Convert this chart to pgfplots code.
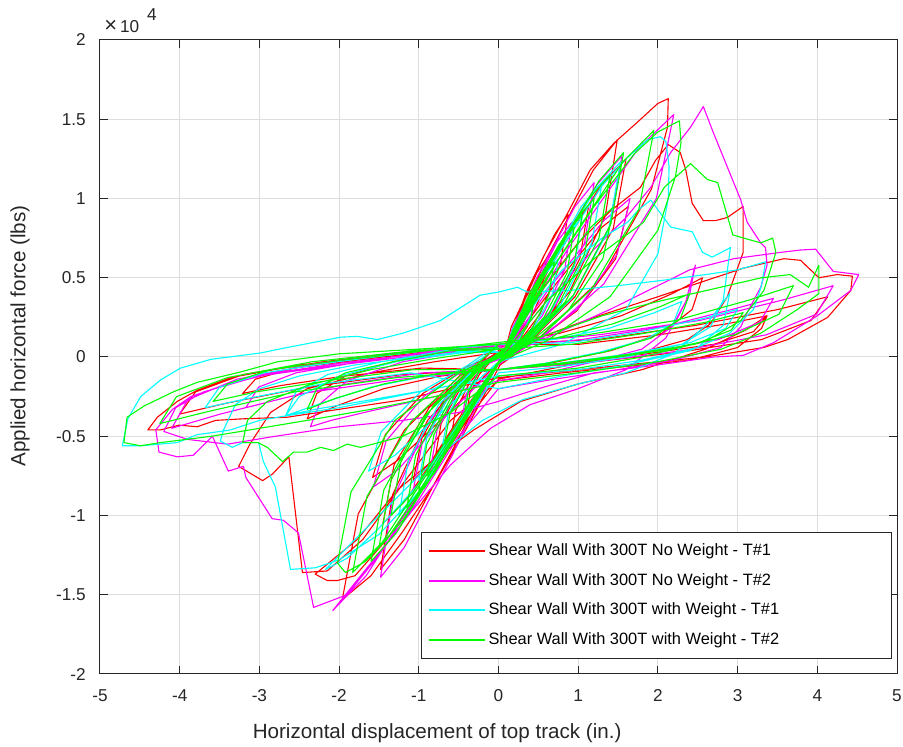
\documentclass[border=0pt]{standalone}
\usepackage{fontspec}
\setmainfont{Liberation Sans}
\usepackage{pgfplots}
\pgfplotsset{compat=1.18}
\definecolor{cRed}{rgb}{1,0,0}
\definecolor{cMag}{rgb}{1,0,1}
\definecolor{cCya}{rgb}{0,1,1}
\definecolor{cGre}{rgb}{0,1,0}
\begin{document}
\begin{tikzpicture}
\begin{axis}[
  scale only axis, width=398.5pt, height=317pt,
  xmin=-5, xmax=5, ymin=-2, ymax=2, clip=false,
  xtick={-5,-4,-3,-2,-1,0,1,2,3,4,5},
  xticklabels={-5,-4,-3,-2,-1,0,1,2,3,4,5},
  ytick={-2,-1.5,-1,-0.5,0,0.5,1,1.5,2},
  yticklabels={-2,-1.5,-1,-0.5,0,0.5,1,1.5,2},
  tick align=inside, tick pos=both,
  major tick length=4pt,
  grid=major,
  major grid style={draw=black!13, line width=0.5pt},
  axis line style={draw=black!85, line width=0.5pt},
  every tick/.style={draw=black!85, line width=0.5pt},
  ticklabel style={font=\fontsize{8.6}{10}\selectfont, text=black!85},
  yticklabel style={xshift=-3.6pt},
  xticklabel style={yshift=-4.1pt},
  xlabel={Horizontal displacement of top track (in.)},
  ylabel={Applied horizontal force (lbs)},
  label style={font=\fontsize{10.3}{12}\selectfont, text=black!85},
  xlabel style={at={(axis description cs:0.423,-0.0931)}, anchor=center},
  ylabel style={at={(axis description cs:-0.1004,0.533)}, anchor=center},
  legend cell align=left,
  legend style={at={(axis description cs:1,0)}, anchor=south east, xshift=-2.5pt, yshift=7.5pt,
    draw=black!85, line width=0.5pt, fill=white, font=\fontsize{8.2}{10}\selectfont,
    inner xsep=3pt, inner ysep=3.6pt, row sep=3.3pt, nodes={inner xsep=1.5pt, inner ysep=2pt}},
  legend image code/.code={\draw[#1] (0pt,0pt) -- (28pt,0pt);},
]
\addlegendimage{draw=cRed, line width=0.95pt}
\addlegendentry{\makebox[197pt][l]{Shear Wall With 300T No Weight - T\#1}}
\addlegendimage{draw=cMag, line width=0.95pt}
\addlegendentry{\makebox[197pt][l]{Shear Wall With 300T No Weight - T\#2}}
\addlegendimage{draw=cCya, line width=0.95pt}
\addlegendentry{\makebox[197pt][l]{Shear Wall With 300T with Weight - T\#1}}
\addlegendimage{draw=cGre, line width=0.95pt}
\addlegendentry{\makebox[197pt][l]{Shear Wall With 300T with Weight - T\#2}}
% ---------------- Red: No Weight T#1
\addplot[forget plot, draw=cRed, line width=0.55pt, mark=none, line join=round] coordinates {
(0.08,0.03)(0.16,0.19)(0.32,0.36)(0.4,0.42)(0.36,0.27)(0.24,0.13)(0.1,0.03)(0,-0.03)(-0.16,-0.16)(-0.32,-0.31)(-0.4,-0.36)(-0.36,-0.23)(-0.24,-0.11)(-0.1,-0.03)
(0.12,0.06)(0.26,0.28)(0.48,0.53)(0.6,0.62)(0.54,0.40)(0.36,0.19)(0.15,0.05)(0.03,-0.01)(-0.22,-0.23)(-0.48,-0.45)(-0.6,-0.52)(-0.54,-0.34)(-0.36,-0.16)(-0.15,-0.04)
(0.08,0.03)(0.35,0.41)(0.70,0.77)(0.87,0.9)(0.78,0.59)(0.52,0.27)(0.22,0.07)(0,-0.03)(-0.32,-0.29)(-0.64,-0.56)(-0.8,-0.65)(-0.72,-0.42)(-0.48,-0.2)(-0.2,-0.05)
(0.04,0.0)(0.43,0.43)(0.90,0.82)(1.13,0.95)(1.02,0.62)(0.68,0.29)(0.28,0.08)(-0.04,-0.06)(-0.45,-0.35)(-0.86,-0.67)(-1.07,-0.78)(-0.96,-0.51)(-0.64,-0.23)(-0.27,-0.06)
(0.08,0.03)(0.60,0.62)(1.19,1.18)(1.49,1.37)(1.34,0.89)(0.89,0.41)(0.37,0.11)(0,-0.03)(-0.58,-0.47)(-1.16,-0.90)(-1.45,-1.05)(-1.31,-0.68)(-0.87,-0.32)(-0.36,-0.08)
(0.15,0.08)(0.67,0.43)(1.30,0.82)(1.63,0.95)(1.47,0.62)(0.98,0.29)(0.41,0.08)(0.06,0.0)(-0.6,-0.34)(-1.26,-0.65)(-1.58,-0.76)(-1.42,-0.49)(-0.95,-0.23)(-0.40,-0.06)
(0.08,0.03)(0.64,0.56)(1.28,1.08)(1.6,1.25)(1.44,0.81)(0.96,0.38)(0.4,0.1)(0,-0.03)(-0.59,-0.60)(-1.18,-1.15)(-1.48,-1.34)(-1.33,-0.87)(-0.89,-0.40)(-0.37,-0.11)
(0,0.08)(0.77,0.15)(1.54,0.26)(2.18,0.40)(2.56,0.50)(2.43,0.30)(2.05,0.15)(1.41,0.04)(0.64,-0.04)(0,-0.08)(-0.72,-0.12)(-1.44,-0.20)(-2.04,-0.31)(-2.4,-0.39)(-2.28,-0.23)(-1.92,-0.12)(-1.32,-0.03)(-0.6,0.04)
(0.1,0.05)(0.36,0.40)(0.56,0.63)(0.87,0.91)(1.15,1.18)(1.45,1.35)(1.74,1.48)(2.0,1.6)(2.13,1.63)(2.12,1.45)(1.92,1.06)(1.28,0.49)(0.53,0.13)(0.02,-0.05)(-0.4,-0.45)(-0.8,-0.8)(-1.2,-1.1)(-1.6,-1.38)(-1.96,-1.53)(-1.76,-0.99)(-1.18,-0.46)(-0.49,-0.12)
(0.05,0.02)(0.5,0.4)(1.0,0.72)(1.4,0.92)(1.78,1.07)(1.97,1.24)(2.13,1.34)(2.28,1.29)(2.35,1.18)(2.43,0.97)(2.57,0.86)(2.72,0.86)(2.87,0.88)(3.07,0.95)(3.07,0.66)(2.87,0.38)(2.66,0.21)(2.37,0.11)(1.8,0.03)(1.0,-0.04)(0.4,-0.1)(0,-0.14)
(-0.4,-0.4)(-0.9,-0.8)(-1.4,-1.15)(-1.8,-1.38)(-2.02,-1.41)(-2.15,-1.41)(-2.30,-1.37)(-1.77,-1.15)(-1.27,-0.84)(-0.77,-0.63)(-0.31,-0.46)(0.28,-0.28)(1.0,-0.17)(1.8,-0.08)(2.6,0.05)(3.1,0.17)(3.37,0.26)(3.3,0.18)(3.0,0.06)(2.4,-0.02)(1.6,-0.06)(0.8,-0.1)(0,-0.15)
(-0.6,-0.4)(-1.2,-0.8)(-1.7,-1.15)(-2.15,-1.35)(-2.46,-1.36)(-2.63,-0.63)(-2.84,-0.74)(-2.96,-0.78)(-3.26,-0.69)(-3.12,-0.55)(-2.86,-0.35)(-2.4,-0.2)(-1.6,-0.1)(-0.8,-0.03)(0,0.03)
(0,0.08)(1.01,0.08)(2.02,0.14)(2.87,0.21)(3.37,0.26)(3.2,0.16)(2.7,0.08)(1.85,0.02)(0.84,-0.04)(0,-0.08)(-0.96,-0.07)(-1.93,-0.12)(-2.73,-0.18)(-3.21,-0.23)(-3.05,-0.14)(-2.57,-0.07)(-1.77,-0.02)(-0.8,0.04)
(0,0.06)(0.5,0.12)(1.2,0.25)(2.0,0.38)(2.53,0.47)(3.07,0.56)(3.58,0.62)(3.79,0.61)(4.02,0.50)(4.25,0.52)(4.44,0.51)(4.42,0.42)(4.13,0.25)(3.63,0.11)(3.33,0.06)(2.6,0.0)(1.6,-0.05)(0.6,-0.1)(0,-0.13)
(-0.6,-0.2)(-1.2,-0.27)(-2.0,-0.33)(-2.65,-0.38)(-3.2,-0.39)(-3.55,-0.40)(-3.78,-0.44)(-4.01,-0.43)(-4.24,-0.46)(-4.40,-0.46)(-4.28,-0.38)(-4.03,-0.28)(-3.78,-0.21)(-3.36,-0.13)(-2.5,-0.05)(-1.5,0.0)(-0.6,0.03)
(0,0.08)(1.24,0.11)(2.48,0.20)(3.51,0.30)(4.13,0.38)(3.92,0.23)(3.3,0.11)(2.27,0.03)(1.03,-0.04)(0,-0.08)(-1.2,-0.11)(-2.4,-0.19)(-3.4,-0.29)(-4.0,-0.36)(-3.8,-0.22)(-3.2,-0.11)(-2.2,-0.03)(-1.0,0.04)(0,0.06)
};
% ---------------- Magenta: No Weight T#2
\addplot[forget plot, draw=cMag, line width=0.55pt, mark=none, line join=round] coordinates {
(0.08,0.03)(0.18,0.19)(0.36,0.36)(0.45,0.42)(0.41,0.27)(0.27,0.13)(0.11,0.03)(0,-0.03)(-0.18,-0.17)(-0.36,-0.32)(-0.45,-0.37)(-0.41,-0.24)(-0.27,-0.11)(-0.11,-0.03)
(0.13,0.07)(0.39,0.38)(0.74,0.73)(0.92,0.85)(0.83,0.55)(0.55,0.26)(0.23,0.07)(0.04,-0.01)(-0.32,-0.32)(-0.68,-0.60)(-0.85,-0.7)(-0.77,-0.46)(-0.51,-0.21)(-0.21,-0.06)
(0.08,0.03)(0.48,0.50)(0.96,0.95)(1.2,1.1)(1.08,0.72)(0.72,0.33)(0.3,0.09)(0,-0.03)(-0.43,-0.38)(-0.86,-0.72)(-1.07,-0.84)(-0.96,-0.55)(-0.64,-0.25)(-0.27,-0.07)
(0.03,-0.01)(0.6,0.57)(1.24,1.09)(1.55,1.27)(1.40,0.83)(0.93,0.38)(0.39,0.10)(-0.05,-0.07)(-0.65,-0.37)(-1.26,-0.71)(-1.57,-0.82)(-1.41,-0.53)(-0.94,-0.25)(-0.39,-0.07)
(0.08,0.03)(0.66,0.45)(1.32,0.86)(1.65,1.0)(1.49,0.65)(0.99,0.30)(0.41,0.08)(0,-0.03)(-0.59,-0.63)(-1.18,-1.20)(-1.48,-1.39)(-1.33,-0.90)(-0.89,-0.42)(-0.37,-0.11)
(0.12,0.06)(0.88,0.69)(1.76,1.32)(2.2,1.53)(1.98,1.0)(1.32,0.46)(0.55,0.12)(0.02,-0.03)(-0.83,-0.72)(-1.66,-1.38)(-2.08,-1.60)(-1.6,-1.3)(-1.1,-0.98)(-0.6,-0.68)(-0.1,-0.45)(0.4,-0.3)(1.0,-0.2)(1.6,-0.08)(2.1,0.12)(2.35,0.35)(2.47,0.58)(2.4,0.4)(2.2,0.2)(1.8,0.05)(1.2,-0.03)(0.6,-0.1)(0,-0.15)
(-0.8,-0.25)(-1.6,-0.34)(-2.1,-0.4)(-2.36,-0.44)(-2.25,-0.3)(-1.9,-0.15)(-1.2,-0.03)(-0.5,0.03)
(0.08,0.03)(0.6,0.35)(1.2,0.68)(1.6,0.88)(1.91,1.07)(2.16,1.29)(2.41,1.45)(2.57,1.58)(2.70,1.41)(2.87,1.2)(3.04,0.99)(3.12,0.85)(3.29,0.72)(3.35,0.69)(3.37,0.58)(3.29,0.44)(3.12,0.28)(3.04,0.19)(2.79,0.06)(2.2,-0.02)(1.5,-0.08)(0.7,-0.14)(0,-0.2)
(-0.5,-0.5)(-1.0,-0.9)(-1.5,-1.25)(-1.9,-1.5)(-2.32,-1.58)(-2.51,-1.11)(-2.70,-1.03)(-2.84,-1.02)(-3.17,-0.76)(-3.20,-0.69)(-3.39,-0.72)(-3.59,-0.50)(-3.83,-0.62)(-4.03,-0.63)(-4.26,-0.60)(-4.30,-0.46)(-4.09,-0.33)(-3.86,-0.25)(-3.4,-0.17)(-2.8,-0.1)(-2.0,-0.04)(-1.0,0.02)(0,0.07)
(0.6,0.12)(1.4,0.3)(2.4,0.55)(2.95,0.62)(3.54,0.66)(3.79,0.675)(3.98,0.68)(4.2,0.54)(4.52,0.52)(4.42,0.42)(4.0,0.26)(3.45,0.09)(3.07,0.01)(2.70,0.0)(2.0,-0.05)(1.2,-0.1)(0.5,-0.2)(0,-0.28)
(-0.5,-0.35)(-1.2,-0.4)(-2.0,-0.44)(-2.8,-0.5)(-3.4,-0.55)(-3.9,-0.52)(-4.2,-0.47)(-4.05,-0.32)(-3.7,-0.22)(-3.0,-0.12)(-2.0,-0.05)(-1.0,0.01)(0,0.06)
(1.04,0.11)(2.07,0.19)(2.93,0.30)(3.45,0.37)(3.28,0.22)(2.76,0.11)(1.9,0.03)(0.86,-0.04)(0,-0.08)(-0.95,-0.10)(-1.9,-0.17)(-2.7,-0.26)(-3.17,-0.32)(-3.01,-0.19)(-2.54,-0.10)(-1.74,-0.03)(-0.79,0.04)
(0,0.08)(1.26,0.14)(2.52,0.23)(3.57,0.36)(4.2,0.45)(3.99,0.27)(3.36,0.14)(2.31,0.04)(1.05,-0.04)(0,-0.08)(-1.23,-0.14)(-2.46,-0.23)(-3.49,-0.36)(-4.1,-0.45)(-3.9,-0.27)(-3.28,-0.14)(-2.26,-0.04)(-1.03,0.04)(0,0.06)
};
% ---------------- Cyan: With Weight T#1
\addplot[forget plot, draw=cCya, line width=0.55pt, mark=none, line join=round] coordinates {
(0.08,0.03)(0.18,0.18)(0.36,0.34)(0.45,0.4)(0.41,0.26)(0.27,0.12)(0.11,0.03)(0,-0.03)(-0.17,-0.15)(-0.34,-0.28)(-0.42,-0.33)(-0.38,-0.22)(-0.25,-0.10)(-0.11,-0.03)
(0.04,0.0)(0.28,0.28)(0.6,0.53)(0.75,0.62)(0.68,0.40)(0.45,0.19)(0.19,0.05)(-0.05,-0.06)(-0.3,-0.25)(-0.56,-0.47)(-0.7,-0.55)(-0.63,-0.36)(-0.42,-0.17)(-0.18,-0.04)
(0.08,0.03)(0.42,0.40)(0.84,0.76)(1.05,0.88)(0.95,0.57)(0.63,0.26)(0.26,0.07)(0,-0.03)(-0.4,-0.35)(-0.8,-0.67)(-1.0,-0.78)(-0.9,-0.51)(-0.6,-0.23)(-0.25,-0.06)
(0.14,0.07)(0.54,0.50)(1.04,0.95)(1.3,1.1)(1.17,0.72)(0.78,0.33)(0.33,0.09)(0.05,0.0)(-0.48,-0.45)(-1.0,-0.86)(-1.25,-1.0)(-1.13,-0.65)(-0.75,-0.3)(-0.31,-0.08)
(0.08,0.03)(0.61,0.55)(1.22,1.06)(1.53,1.23)(1.38,0.80)(0.92,0.37)(0.38,0.10)(0,-0.03)(-0.65,-0.32)(-1.30,-0.62)(-1.63,-0.72)(-1.47,-0.47)(-0.98,-0.22)(-0.41,-0.06)
(0,0.08)(0.9,0.09)(1.8,0.16)(2.55,0.24)(3.0,0.3)(2.85,0.18)(2.4,0.09)(1.65,0.02)(0.75,-0.04)(0,-0.08)(-0.8,-0.11)(-1.6,-0.19)(-2.27,-0.30)(-2.67,-0.37)(-2.54,-0.22)(-2.14,-0.11)(-1.47,-0.03)(-0.67,0.04)
(0.08,0.03)(0.5,0.45)(1.0,0.85)(1.3,1.08)(1.62,1.26)(1.87,1.37)(2.03,1.39)(2.1,1.36)(2.14,1.2)(2.13,1.0)(2.0,0.65)(1.6,0.3)(0.8,0.08)(0,-0.03)
(-0.5,-0.42)(-1.0,-0.8)(-1.5,-1.08)(-1.9,-1.27)(-2.17,-1.34)(-1.7,-1.1)(-1.2,-0.85)(-0.7,-0.6)(-0.2,-0.4)(0.3,-0.27)(1.0,-0.17)(1.6,-0.1)(2.2,0.02)(2.6,0.2)(2.9,0.4)(2.82,0.2)(2.5,0.06)(1.8,-0.02)(1.0,-0.08)(0,-0.12)
(-0.8,-0.2)(-1.6,-0.27)(-2.3,-0.33)(-2.67,-0.37)(-2.5,-0.25)(-2.0,-0.12)(-1.2,-0.02)(-0.4,0.03)
(0.08,0.03)(0.4,0.3)(0.8,0.55)(1.3,0.75)(1.62,0.85)(1.76,0.93)(1.91,0.99)(2.16,0.82)(2.43,0.79)(2.56,0.66)(2.68,0.63)(2.91,0.69)(2.82,0.36)(2.66,0.19)(2.3,0.08)(1.6,0.0)(0.8,-0.06)(0,-0.1)
(-0.5,-0.45)(-1.0,-0.85)(-1.5,-1.12)(-2.0,-1.28)(-2.3,-1.33)(-2.61,-1.34)(-2.80,-0.82)(-2.95,-0.66)(-3.01,-0.54)(-3.21,-0.54)(-3.34,-0.57)(-3.49,-0.53)(-3.45,-0.46)(-3.3,-0.3)(-3.0,-0.2)(-2.5,-0.12)(-1.8,-0.05)(-1.0,0.0)(0,0.06)
(-0.8,-0.2)(-1.5,-0.27)(-2.0,-0.32)(-2.65,-0.37)(-3.0,-0.4)(-3.36,-0.46)(-3.78,-0.49)(-4.03,-0.54)(-4.49,-0.56)(-4.72,-0.56)(-4.65,-0.39)(-4.49,-0.25)(-4.24,-0.145)(-3.99,-0.07)(-3.61,-0.015)(-2.99,0.025)(-2.7,0.055)(-1.98,0.125)(-1.77,0.13)(-1.52,0.11)(-1.2,0.15)(-0.73,0.23)(-0.23,0.39)(0,0.41)(0.24,0.44)(0.36,0.41)
(0.9,0.42)(1.5,0.45)(2.0,0.48)(2.6,0.52)(3.0,0.55)(3.35,0.6)(3.3,0.45)(3.2,0.3)(2.9,0.15)(2.4,0.04)(1.6,-0.05)(0.8,-0.12)(0,-0.2)
(-1.1,-0.10)(-2.21,-0.17)(-3.13,-0.26)(-3.68,-0.32)(-3.5,-0.19)(-2.94,-0.10)(-2.02,-0.03)(-0.92,0.04)
(0,0.08)(0.69,0.11)(1.38,0.18)(1.96,0.28)(2.3,0.35)(2.19,0.21)(1.84,0.11)(1.27,0.03)(0.58,-0.04)(0,-0.08)
};
% ---------------- Green: With Weight T#2
\addplot[forget plot, draw=cGre, line width=0.55pt, mark=none, line join=round] coordinates {
(0.08,0.03)(0.18,0.17)(0.36,0.33)(0.45,0.38)(0.41,0.25)(0.27,0.11)(0.11,0.03)(0,-0.03)(-0.17,-0.15)(-0.34,-0.28)(-0.42,-0.33)(-0.38,-0.22)(-0.25,-0.10)(-0.11,-0.03)
(0.13,0.07)(0.3,0.27)(0.56,0.52)(0.7,0.6)(0.63,0.39)(0.42,0.18)(0.18,0.05)(0.04,-0.01)(-0.25,-0.25)(-0.54,-0.47)(-0.68,-0.55)(-0.61,-0.36)(-0.41,-0.17)(-0.17,-0.04)
(0.08,0.03)(0.38,0.37)(0.76,0.71)(0.95,0.82)(0.86,0.53)(0.57,0.25)(0.24,0.07)(0,-0.03)(-0.36,-0.34)(-0.72,-0.65)(-0.9,-0.75)(-0.81,-0.49)(-0.54,-0.23)(-0.23,-0.06)
(0.03,0.0)(0.4,0.41)(0.84,0.77)(1.05,0.9)(0.95,0.59)(0.63,0.27)(0.26,0.07)(-0.04,-0.06)(-0.42,-0.38)(-0.8,-0.73)(-1.0,-0.85)(-0.9,-0.55)(-0.6,-0.26)(-0.25,-0.07)
(0.08,0.03)(0.48,0.45)(0.96,0.86)(1.2,1.0)(1.08,0.65)(0.72,0.3)(0.3,0.08)(0,-0.03)(-0.46,-0.43)(-0.92,-0.82)(-1.15,-0.95)(-1.04,-0.62)(-0.69,-0.29)(-0.29,-0.08)
(0.15,0.08)(0.58,0.52)(1.12,0.99)(1.4,1.15)(1.26,0.75)(0.84,0.35)(0.35,0.09)(0.06,0.01)(-0.58,-0.54)(-1.2,-1.03)(-1.5,-1.2)(-1.35,-0.78)(-0.9,-0.36)(-0.38,-0.1)
(0.08,0.03)(0.63,0.58)(1.26,1.11)(1.57,1.29)(1.41,0.84)(0.94,0.39)(0.39,0.10)(0,-0.03)(-0.64,-0.58)(-1.28,-1.11)(-1.6,-1.29)(-1.44,-0.84)(-0.96,-0.39)(-0.40,-0.10)
(0.05,0.01)(0.56,0.43)(1.16,0.82)(1.45,0.95)(1.31,0.62)(0.87,0.29)(0.36,0.08)(-0.03,-0.05)(-0.56,-0.45)(-1.08,-0.86)(-1.35,-1.0)(-1.22,-0.65)(-0.81,-0.3)(-0.34,-0.08)
(0,0.08)(0.72,0.12)(1.44,0.21)(2.04,0.32)(2.4,0.4)(2.28,0.24)(1.92,0.12)(1.32,0.03)(0.6,-0.04)(0,-0.08)(-0.72,-0.10)(-1.44,-0.17)(-2.04,-0.26)(-2.4,-0.33)(-2.28,-0.2)(-1.92,-0.1)(-1.32,-0.03)(-0.6,0.04)
(0.11,0.05)(0.78,0.64)(1.56,1.23)(1.95,1.43)(1.76,0.93)(1.17,0.43)(0.49,0.11)(0.02,-0.02)(-0.73,-0.61)(-1.46,-1.17)(-1.83,-1.36)(-1.65,-0.88)(-1.10,-0.41)(-0.46,-0.11)
(0.08,0.03)(0.6,0.5)(1.2,0.95)(1.7,1.28)(2.0,1.42)(2.27,1.49)(2.29,1.35)(2.22,1.14)(2.0,0.8)(1.4,0.38)(0.6,0.1)(0,-0.03)(-0.5,-0.45)(-1.0,-0.85)(-1.4,-1.15)(-1.67,-1.29)(-1.92,-1.36)(-2.02,-1.30)(-1.85,-0.85)(-1.3,-0.4)(-0.5,-0.1)
(0.08,0.03)(0.6,0.35)(1.2,0.62)(1.82,0.85)(2.08,1.07)(2.41,1.22)(2.62,1.12)(2.75,1.10)(2.94,0.77)(3.29,0.72)(3.44,0.75)(3.48,0.66)(3.33,0.42)(3.04,0.23)(2.6,0.1)(1.8,0.0)(1.0,-0.07)(0,-0.12)
(-0.6,-0.35)(-1.2,-0.5)(-1.73,-0.57)(-1.9,-0.55)(-2.07,-0.59)(-2.23,-0.57)(-2.40,-0.60)(-2.57,-0.60)(-2.71,-0.66)(-2.9,-0.57)(-3.02,-0.54)(-3.21,-0.54)(-3.15,-0.4)(-2.9,-0.28)(-2.4,-0.18)(-1.6,-0.08)(-0.8,-0.01)(0,0.05)
(0.92,0.08)(1.84,0.15)(2.61,0.22)(3.07,0.28)(2.92,0.17)(2.46,0.08)(1.69,0.02)(0.77,-0.04)(0,-0.08)(-1.07,-0.08)(-2.15,-0.15)(-3.04,-0.22)(-3.58,-0.28)(-3.4,-0.17)(-2.86,-0.08)(-1.97,-0.02)(-0.9,0.04)
(0.5,0.12)(1.3,0.26)(2.0,0.35)(2.7,0.43)(3.3,0.5)(3.66,0.52)(3.89,0.44)(4.02,0.58)(4.02,0.4)(3.75,0.3)(3.29,0.15)(2.8,0.05)(2.0,-0.03)(1.0,-0.1)(0,-0.16)
(-0.8,-0.25)(-1.6,-0.33)(-2.4,-0.4)(-3.0,-0.45)(-3.6,-0.5)(-4.24,-0.54)(-4.49,-0.56)(-4.7,-0.54)(-4.66,-0.38)(-4.45,-0.31)(-4.08,-0.22)(-3.78,-0.16)(-3.24,-0.095)(-2.77,-0.03)(-2.0,0.02)(-1.0,0.05)(0,0.08)
(1.11,0.14)(2.22,0.23)(3.15,0.36)(3.7,0.45)(3.52,0.27)(2.96,0.14)(2.04,0.04)(0.93,-0.04)(0,-0.08)(-1.28,-0.13)(-2.55,-0.22)(-3.61,-0.34)(-4.25,-0.42)(-4.04,-0.25)(-3.4,-0.13)(-2.34,-0.03)(-1.06,0.04)(0,0.06)
};
\node[anchor=base west, font=\fontsize{8.6}{10}\selectfont, text=black!85, inner sep=0pt] at (axis description cs:0,1) [xshift=2pt, yshift=3.8pt] {{\fontsize{11}{12}\selectfont ×}\,10\hspace{4pt}\raisebox{1.3ex}{4}};
\end{axis}
\pgfresetboundingbox
\path[use as bounding box] (-50pt,-36.5pt) rectangle (401.5pt,337pt);
\end{tikzpicture}
\end{document}
